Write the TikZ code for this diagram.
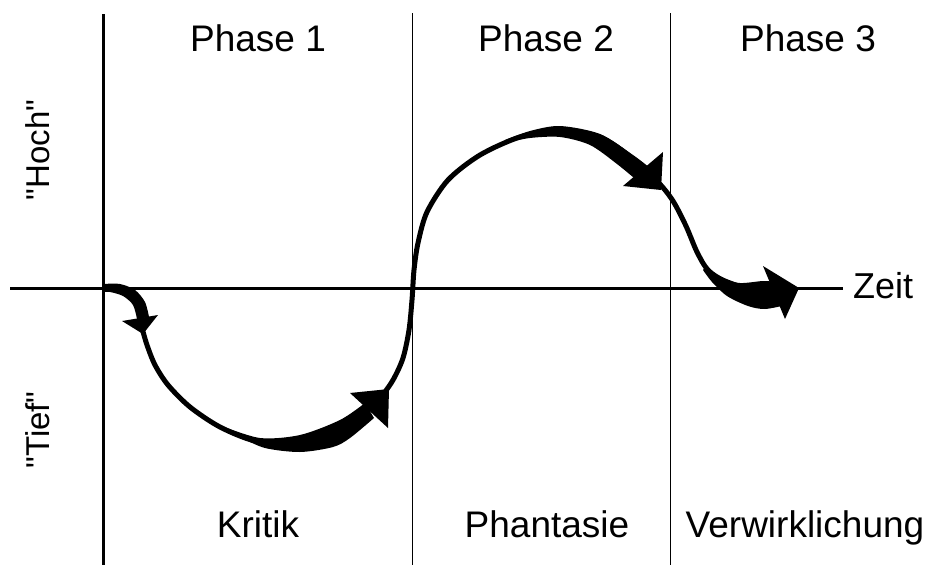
\documentclass[tikz,border=0pt]{standalone}
\usepackage{fontspec}
\setmainfont{Liberation Sans}
\newfontfamily\sidefont{Liberation Sans}
\usetikzlibrary{positioning}

\begin{document}
\begin{tikzpicture}[x=1pt, y=-1pt,
    axis/.style={line width=3pt},
    divider/.style={line width=0.9pt},
    curve/.style={line width=5pt, line cap=round},
    lbl/.style={font=\fontsize{37}{40}\selectfont, anchor=base, inner sep=0pt},
    side/.style={font=\sidefont\fontsize{33}{36}\selectfont, rotate=90, inner sep=0pt},
    head/.style={fill=black}
  ]
  \useasboundingbox (0,0) rectangle (935,565);

  % Axes
  \coordinate (yTop) at (103,14);
  \coordinate (yBot) at (103,565);
  \coordinate (xLeft) at (10,288);
  \coordinate (xRight) at (843,288);
  \draw[axis] (yTop) -- (yBot);
  \draw[axis] (xLeft) -- (xRight);
  \node[font=\fontsize{36}{40}\selectfont, anchor=base west, inner sep=0pt] (zeit) at (853,298) {Zeit};

  % Phase dividers
  \coordinate (d1Top) at (412,13);
  \coordinate (d1Bot) at (412,565);
  \coordinate (d2Top) at (670,13);
  \coordinate (d2Bot) at (670,565);
  \draw[divider] (d1Top) -- (d1Bot);
  \draw[divider] (d2Top) -- (d2Bot);

  % Phase headers
  \node[lbl] (ph1) at (258,51) {Phase 1};
  \node[lbl] (ph2) at (546,51) {Phase 2};
  \node[lbl] (ph3) at (808,51) {Phase 3};

  % Phase names
  \node[lbl] (kritik) at (258,537) {Kritik};
  \node[lbl] (phant) at (547,537) {Phantasie};
  \node[lbl] (verw) at (805,537) {Verwirklichung};

  % Levels
  \node[side] (hoch) at (38,150) {"Hoch"};
  \node[side] (tief) at (38,430) {"Tief"};

  % Curve
  \draw[curve] plot[smooth] coordinates {(142,328) (147,345) (155,365)
    (168,385) (190,407) (220,427) (255,441) (295,445) (335,434) (362,415)
    (380,398) (393,380) (403,358) (409,330) (412,300) (414,270) (418,243)
    (427,212) (448,180) (480,155) (520,137) (560,130) (600,137) (632,158)
    (658,182) (673,201) (686,226) (697,252) (708,270) (725,281) (760,292)
    (790,292)};

  % Arrow 1
  \fill plot[smooth] coordinates {(103,284) (120,284) (135,290) (145,302) (149,317)}
    -- plot[smooth] coordinates {(137,319) (133,305) (123,296) (110,292) (103,292)} -- cycle;
  \fill[head] (122,321) -- (158,315) -- (143,334) -- cycle;

  % Arrow 2
  \fill plot[smooth] coordinates {(222,426) (260,438) (300,435) (340,420) (365,403)}
    -- plot[smooth] coordinates {(374,418) (350,438) (333,447) (300,452) (265,448) (240,437) (222,429)} -- cycle;
  \fill[head] (350,393) -- (389,389) -- (388,428) -- cycle;

  % Arrow 3
  \fill plot[smooth] coordinates {(505,140) (530,131) (560,126) (600,134) (633,155) (650,168)}
    -- plot[smooth] coordinates {(640,183) (617,164) (590,145) (560,137) (530,138) (505,143)} -- cycle;
  \fill[head] (623,186) -- (663,152) -- (661,190) -- cycle;

  % Arrow 4
  \fill plot[smooth] coordinates {(705,267) (718,278) (740,283) (763,281) (777,282)}
    -- plot[smooth] coordinates {(786,305) (765,309) (748,306) (727,296) (712,282) (703,270)} -- cycle;
  \fill[head] (763,266) -- (799,288) -- (785,319) -- cycle;
\end{tikzpicture}
\end{document}
